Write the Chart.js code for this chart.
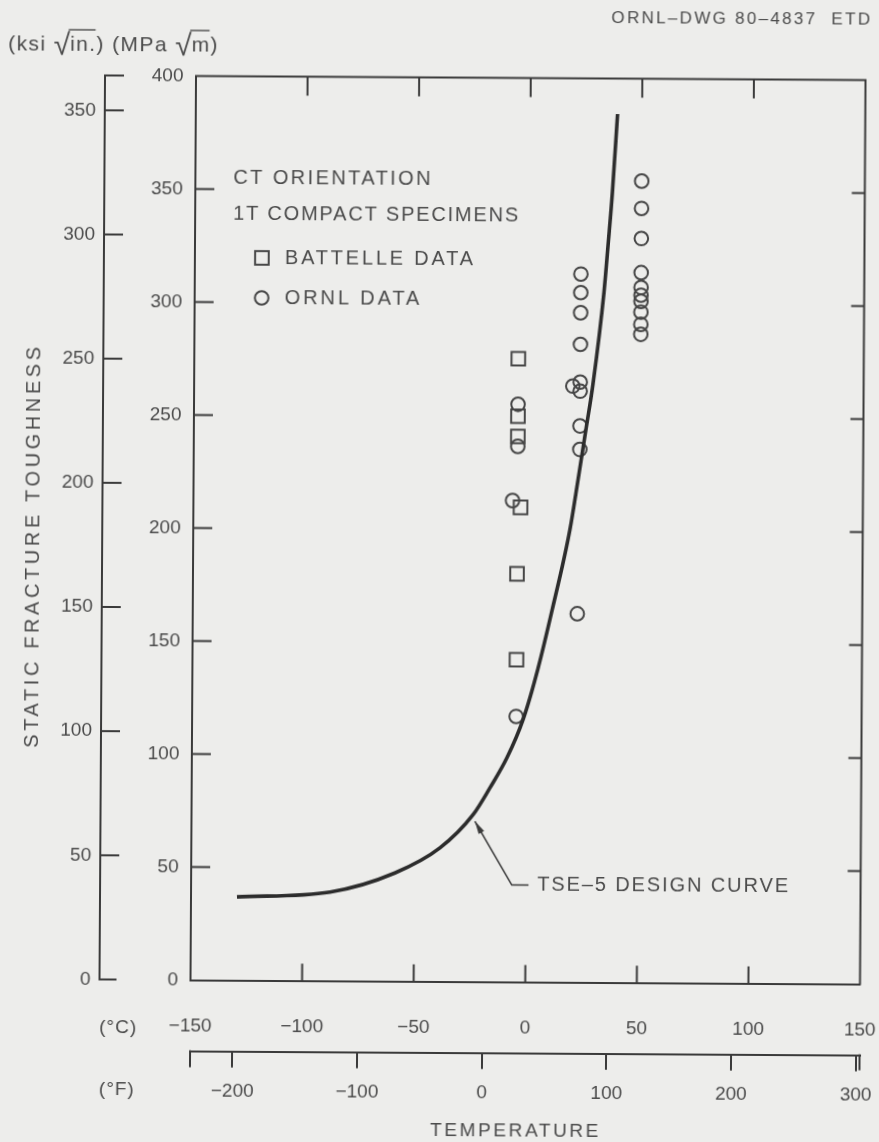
<!DOCTYPE html>
<html>
<head>
<meta charset="utf-8">
<script src="https://cdn.jsdelivr.net/npm/chart.js@4.4.1/dist/chart.umd.min.js"></script>
<style>
  html, body { margin: 0; padding: 0; background: #ededeb; overflow: hidden; }
  #wrap { position: relative; width: 879px; height: 1142px; transform: rotate(0.35deg); transform-origin: 439.5px 571px; }
  canvas { display: block; }
</style>
</head>
<body>
<div id="wrap"><canvas id="c" width="879" height="1142"></canvas></div>
<script>
// ---- Axis ticks ----
const tempTicksC = [-150, -100, -50, 0, 50, 100, 150];     // °C
const tempTicksF = [-200, -100, 0, 100, 200, 300];         // °F
const mpaTicks   = [0, 50, 100, 150, 200, 250, 300, 350, 400]; // MPa·√m
const ksiTicks   = [0, 50, 100, 150, 200, 250, 300, 350];  // ksi·√in.
const MPA_PER_KSI = 1.0988;

// ---- TSE-5 design curve (temperature °C, toughness MPa·√m) ----
const curveTemp = [-129.4, -87.7, -58.7, -38.6, -23.9, -16.3, -8.8, -1.7, 4.8, 11.0, 18.8, 22.3, 25.7, 28.7, 33.4, 35.2, 36.9, 39.0];
const curveK    = [36.9, 39.3, 47.9, 59.1, 73.8, 85.9, 99.2, 116.1, 138.5, 164.5, 200.4, 222.5, 244.7, 264.6, 305.4, 327.5, 349.7, 384.3];

// ---- Battelle data (squares) ----
const battelleTemp = [-4.8, -4.8, -4.8, -3.4, -4.8, -4.8];
const battelleK    = [275.8, 250.3, 241.4, 210.0, 180.6, 142.6];

// ---- ORNL data (circles) ----
const ornlTemp = [-4.8, -4.8, -7.0, -4.8,
                  23.0, 23.0, 23.0, 23.0, 23.0, 19.7, 23.0, 23.0, 23.0, 22.3,
                  50.0, 50.0, 50.0, 50.0, 50.0, 50.0, 50.0, 50.0, 50.0, 50.0];
const ornlK    = [255.6, 237.0, 213.0, 117.5,
                  313.4, 305.2, 296.3, 282.3, 265.6, 263.8, 261.6, 246.2, 235.8, 163.1,
                  354.7, 342.6, 329.3, 314.2, 307.6, 304.2, 301.5, 296.7, 291.3, 286.9];

// ---- Design-curve callout (°C, MPa·√m) ----
const calloutTip  = [-23.0, 71.0];
const calloutBend = [-6.3, 42.9];
const calloutEnd  = [1.2, 42.9];
const calloutText = [5.1, 42.9];

const INK = '#3a3a3a';
const TXT = '#4b4b4b';
const FONT = "'Liberation Sans', Arial, Helvetica, sans-serif";

const pts = (xs, ys) => xs.map((v, i) => ({ x: v, y: ys[i] }));
const signed = (v) => (v < 0 ? '\u2212' + Math.abs(v) : String(v));

function spaced(ctx, str, x, y, size, spacing, align) {
  ctx.save();
  ctx.font = size + 'px ' + FONT;
  ctx.letterSpacing = spacing + 'px';
  ctx.textBaseline = 'middle';
  ctx.textAlign = align || 'left';
  ctx.fillStyle = TXT;
  ctx.fillText(str, x, y);
  ctx.restore();
}

function seg(ctx, x1, y1, x2, y2) {
  ctx.beginPath();
  ctx.moveTo(x1, y1);
  ctx.lineTo(x2, y2);
  ctx.stroke();
}

// Frame, inward tick marks and the ksi / °F axis ends
const axisDecor = {
  id: 'axisDecor',
  beforeDatasetsDraw(chart) {
    const { ctx, chartArea: a, scales } = chart;
    const sx = scales.x, sy = scales.y, sk = scales.yK, sf = scales.xF;
    ctx.save();
    ctx.strokeStyle = INK;
    ctx.lineWidth = 2;
    ctx.beginPath();
    ctx.moveTo(a.left - 1, a.top);
    ctx.lineTo(a.right, a.top);
    ctx.lineTo(a.right, a.bottom + 1);
    ctx.stroke();

    tempTicksC.slice(1, -1).forEach(v => {
      const px = sx.getPixelForValue(v);
      seg(ctx, px, a.bottom, px, a.bottom - 17);
      seg(ctx, px, a.top, px, a.top + 19);
    });
    mpaTicks.slice(1, -1).forEach(v => {
      const py = sy.getPixelForValue(v);
      seg(ctx, a.left, py, a.left + 19, py);
      seg(ctx, a.right, py, a.right - 13, py);
    });

    const kx = sk.right;
    ksiTicks.slice(1).forEach(v => {
      const py = sk.getPixelForValue(v);
      seg(ctx, kx, py, kx + 19, py);
    });
    seg(ctx, kx - 1, sk.top, kx + 19, sk.top);
    seg(ctx, kx - 1, sk.bottom, kx + 17, sk.bottom);

    const fy = sf.top;
    seg(ctx, sf.left, fy - 1, sf.left, fy + 16);
    seg(ctx, sf.right, fy - 1, sf.right, fy + 15);
    ctx.restore();
  },
  afterDraw(chart) {
    const { ctx, scales } = chart;
    const sx = scales.x, sy = scales.y;
    ctx.save();

    // drawing number
    spaced(ctx, 'ORNL–DWG 80–4837  ETD', 869, 17, 17, 2.3, 'right');

    // (ksi √in.) (MPa √m)
    ctx.fillStyle = TXT;
    ctx.strokeStyle = TXT;
    ctx.textBaseline = 'middle';
    ctx.lineWidth = 1.4;
    ctx.letterSpacing = '1.4px';
    ctx.font = '21px ' + FONT;
    let cx = 5;
    const uy = 47;
    const put = (s) => { ctx.fillText(s, cx, uy); cx += ctx.measureText(s).width; };
    const root = (s) => {
      ctx.save();
      ctx.font = '30px ' + FONT;
      ctx.letterSpacing = '0px';
      ctx.fillText('√', cx, uy + 2);
      const rw = ctx.measureText('√').width;
      ctx.restore();
      const start = cx + rw - 1.5;
      cx += rw;
      const w = ctx.measureText(s).width;
      ctx.fillText(s, cx, uy);
      seg(ctx, start, uy - 15, cx + w - 1, uy - 15);
      cx += w;
    };
    put('(ksi ');
    root('in.');
    put(') (MPa ');
    root('m');
    put(')');
    ctx.letterSpacing = '0px';

    // vertical axis title
    ctx.save();
    ctx.translate(33, 548);
    ctx.rotate(-Math.PI / 2);
    spaced(ctx, 'STATIC FRACTURE TOUGHNESS', 0, 0, 20, 3.6, 'center');
    ctx.restore();

    // temperature scale captions
    spaced(ctx, '(°C)', 121, 1030, 19, 1, 'center');
    spaced(ctx, '(°F)', 120, 1092, 19, 1, 'center');
    spaced(ctx, 'TEMPERATURE', 519, 1131, 19, 2.6, 'center');

    // legend
    spaced(ctx, 'CT ORIENTATION', 231, 179, 20, 2.4, 'left');
    spaced(ctx, '1T COMPACT SPECIMENS', 231, 215, 20, 1.8, 'left');
    ctx.strokeStyle = '#464646';
    ctx.lineWidth = 2;
    ctx.strokeRect(260 - 6.8, 259 - 6.8, 13.6, 13.6);
    spaced(ctx, 'BATTELLE DATA', 283, 259, 20, 2.8, 'left');
    ctx.beginPath();
    ctx.arc(260, 299, 6.8, 0, Math.PI * 2);
    ctx.stroke();
    spaced(ctx, 'ORNL DATA', 283, 299, 20, 2.9, 'left');

    // design-curve callout
    const tip = { x: sx.getPixelForValue(calloutTip[0]), y: sy.getPixelForValue(calloutTip[1]) };
    const bend = { x: sx.getPixelForValue(calloutBend[0]), y: sy.getPixelForValue(calloutBend[1]) };
    const end = { x: sx.getPixelForValue(calloutEnd[0]), y: sy.getPixelForValue(calloutEnd[1]) };
    ctx.strokeStyle = INK;
    ctx.fillStyle = INK;
    ctx.lineWidth = 1.6;
    ctx.beginPath();
    ctx.moveTo(tip.x, tip.y);
    ctx.lineTo(bend.x, bend.y);
    ctx.lineTo(end.x, end.y);
    ctx.stroke();
    const ang = Math.atan2(tip.y - bend.y, tip.x - bend.x);
    const L = 13, W = 3.2;
    ctx.beginPath();
    ctx.moveTo(tip.x, tip.y);
    ctx.lineTo(tip.x - L * Math.cos(ang) + W * Math.sin(ang), tip.y - L * Math.sin(ang) - W * Math.cos(ang));
    ctx.lineTo(tip.x - L * Math.cos(ang) - W * Math.sin(ang), tip.y - L * Math.sin(ang) + W * Math.cos(ang));
    ctx.closePath();
    ctx.fill();
    spaced(ctx, 'TSE–5 DESIGN CURVE', sx.getPixelForValue(calloutText[0]), sy.getPixelForValue(calloutText[1]), 20, 1.9, 'left');

    ctx.restore();
  }
};

const tickFont = { family: FONT, size: 19 };

const noPadX = (h) => (s) => { s.height = h; s.paddingLeft = 0; s.paddingRight = 0; };
const noPadY = (w) => (s) => { s.width = w; s.paddingTop = 0; s.paddingBottom = 0; };

new Chart(document.getElementById('c'), {
  type: 'scatter',
  data: {
    datasets: [
      {
        label: 'TSE-5 DESIGN CURVE',
        data: pts(curveTemp, curveK),
        showLine: true,
        borderColor: '#2c2c2c',
        borderWidth: 3.6,
        pointRadius: 0,
        cubicInterpolationMode: 'monotone',
        fill: false,
        xAxisID: 'x', yAxisID: 'y'
      },
      {
        label: 'BATTELLE DATA',
        data: pts(battelleTemp, battelleK),
        pointStyle: 'rect',
        pointRadius: 9.6,
        pointBorderWidth: 2,
        pointBorderColor: '#464646',
        pointBackgroundColor: 'rgba(0,0,0,0)',
        xAxisID: 'x', yAxisID: 'y'
      },
      {
        label: 'ORNL DATA',
        data: pts(ornlTemp, ornlK),
        pointStyle: 'circle',
        pointRadius: 6.8,
        pointBorderWidth: 2,
        pointBorderColor: '#464646',
        pointBackgroundColor: 'rgba(0,0,0,0)',
        xAxisID: 'x', yAxisID: 'y'
      }
    ]
  },
  options: {
    responsive: false,
    animation: false,
    devicePixelRatio: 1,
    events: [],
    layout: { padding: { left: 0, right: 16.5, top: 77.5, bottom: 0 } },
    plugins: { legend: { display: false }, tooltip: { enabled: false } },
    scales: {
      x: {
        type: 'linear', position: 'bottom', weight: 0,
        min: tempTicksC[0], max: tempTicksC[tempTicksC.length - 1],
        afterBuildTicks: (s) => { s.ticks = tempTicksC.map(v => ({ value: v })); },
        ticks: { font: tickFont, color: TXT, padding: 34.6, maxRotation: 0, autoSkip: false, callback: signed },
        grid: { display: false, drawTicks: false },
        border: { display: true, color: INK, width: 2 },
        afterFit: noPadX(71.2)
      },
      xF: {
        type: 'linear', position: 'bottom', weight: 1,
        min: -234, max: 303,
        afterBuildTicks: (s) => { s.ticks = tempTicksF.map(v => ({ value: v })); },
        ticks: { font: tickFont, color: TXT, padding: 12.9, maxRotation: 0, autoSkip: false, callback: signed },
        grid: { display: true, drawOnChartArea: false, drawTicks: true, tickLength: 16, color: INK, lineWidth: 2 },
        border: { display: true, color: INK, width: 2 },
        afterFit: noPadX(89.3)
      },
      y: {
        type: 'linear', position: 'left', weight: 0,
        min: mpaTicks[0], max: mpaTicks[mpaTicks.length - 1],
        afterBuildTicks: (s) => { s.ticks = mpaTicks.map(v => ({ value: v })); },
        ticks: { font: tickFont, color: TXT, padding: 12.5, autoSkip: false },
        grid: { display: false, drawTicks: false },
        border: { display: true, color: INK, width: 2 },
        afterFit: noPadY(91)
      },
      yK: {
        type: 'linear', position: 'left', weight: 1,
        min: 0, max: mpaTicks[mpaTicks.length - 1] / MPA_PER_KSI,
        afterBuildTicks: (s) => { s.ticks = ksiTicks.map(v => ({ value: v })); },
        ticks: { font: tickFont, color: TXT, padding: 9, autoSkip: false },
        grid: { display: false, drawTicks: false },
        border: { display: true, color: INK, width: 2 },
        afterFit: noPadY(102)
      }
    }
  },
  plugins: [axisDecor]
});
</script>
</body>
</html>
